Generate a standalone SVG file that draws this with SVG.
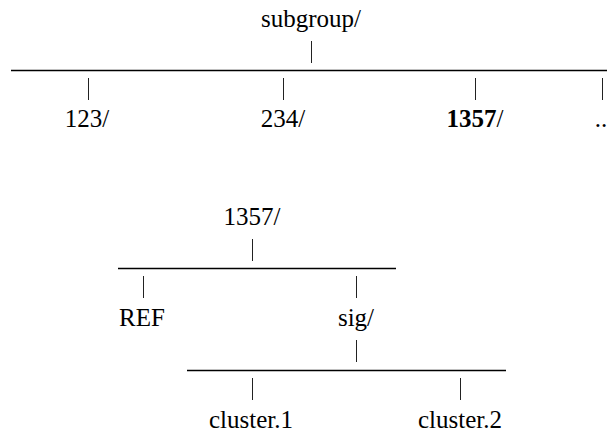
<svg xmlns="http://www.w3.org/2000/svg" width="607" height="433" viewBox="0 0 607 433">
  <style>
    text { font-family: "Liberation Serif", "Times New Roman", serif; font-size: 25px; fill: #000; text-anchor: middle; }
    .b { font-weight: bold; }
    .rule { stroke: #000; stroke-width: 1.3; }
    .tick { stroke: #222; stroke-width: 1; }
  </style>
  <rect width="607" height="433" fill="#fff"/>

  <g id="connectors">
    <!-- subgroup/ and its children -->
    <line class="tick" x1="311.5" y1="41" x2="311.5" y2="63"/>
    <line class="rule" x1="11" y1="70.5" x2="607" y2="70.5"/>
    <line class="tick" x1="88.5" y1="78" x2="88.5" y2="100"/>
    <line class="tick" x1="283.5" y1="78" x2="283.5" y2="100"/>
    <line class="tick" x1="475.5" y1="78" x2="475.5" y2="100"/>
    <line class="tick" x1="602.5" y1="78" x2="602.5" y2="100"/>
    <!-- 1357/ and its children -->
    <line class="tick" x1="252.5" y1="239" x2="252.5" y2="261"/>
    <line class="rule" x1="118" y1="268.5" x2="396" y2="268.5"/>
    <line class="tick" x1="143.5" y1="276" x2="143.5" y2="298"/>
    <line class="tick" x1="356.5" y1="276" x2="356.5" y2="298"/>
    <!-- sig/ and its children -->
    <line class="tick" x1="356.5" y1="340" x2="356.5" y2="362"/>
    <line class="rule" x1="187" y1="370.5" x2="506" y2="370.5"/>
    <line class="tick" x1="252.5" y1="378" x2="252.5" y2="400"/>
    <line class="tick" x1="460.5" y1="378" x2="460.5" y2="400"/>
  </g>

  <g id="subgroup"><text x="311" y="27">subgroup/</text></g>
  <g id="d123"><text x="87" y="127">123/</text></g>
  <g id="d234"><text x="283" y="127">234/</text></g>
  <g id="d1357"><text x="475" y="127"><tspan class="b">1357</tspan>/</text></g>
  <g id="more"><text x="601" y="127">..</text></g>

  <g id="n1357"><text x="252" y="225">1357/</text></g>
  <g id="ref"><text x="142" y="326">REF</text></g>
  <g id="sig"><text x="356" y="326">sig/</text></g>
  <g id="cluster1"><text x="251" y="428">cluster.1</text></g>
  <g id="cluster2"><text x="460" y="428">cluster.2</text></g>
</svg>
